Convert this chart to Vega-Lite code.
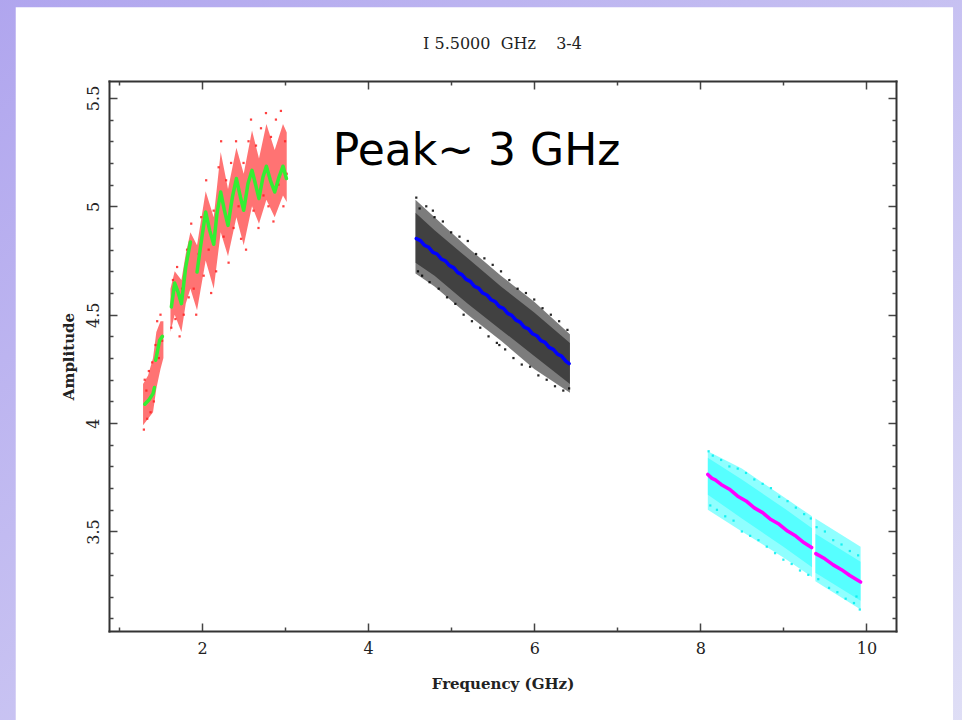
{
  "$schema": "https://vega.github.io/schema/vega-lite/v6.json",
  "width": 787,
  "height": 550,
  "autosize": "none",
  "padding": {"left": 109, "top": 81, "right": 66, "bottom": 89},
  "background": "white",
  "title": {
    "text": "I 5.5000\u00a0\u00a0GHz\u00a0\u00a0\u00a0\u00a03-4",
    "font": "DejaVu Serif",
    "fontSize": 16,
    "fontWeight": "normal",
    "color": "#222222",
    "anchor": "middle",
    "frame": "group",
    "baseline": "alphabetic",
    "offset": -67
  },
  "config": {
    "view": {"stroke": null},
    "axis": {
      "grid": false,
      "tickColor": "#444444",
      "tickWidth": 1.5,
      "domainColor": "#333333",
      "domainWidth": 2,
      "domainCap": "square",
      "labelFont": "DejaVu Serif",
      "labelFontSize": 16,
      "labelColor": "#222222",
      "titleFont": "DejaVu Serif",
      "titleFontSize": 15,
      "titleFontWeight": "bold",
      "titleColor": "#222222"
    }
  },
  "datasets": {
    "bands": [
      {"f": 1.29, "lo": 3.99, "hi": 4.18, "lvl": "r", "seg": "r1"},
      {"f": 1.35, "lo": 4.02, "hi": 4.22, "lvl": "r", "seg": "r1"},
      {"f": 1.41, "lo": 4.05, "hi": 4.30, "lvl": "r", "seg": "r1"},
      {"f": 1.45, "lo": 4.16, "hi": 4.42, "lvl": "r", "seg": "r1"},
      {"f": 1.50, "lo": 4.25, "hi": 4.47, "lvl": "r", "seg": "r1"},
      {"f": 1.535, "lo": 4.30, "hi": 4.47, "lvl": "r", "seg": "r1"},
      {"f": 1.62, "lo": 4.42, "hi": 4.62, "lvl": "r", "seg": "r2"},
      {"f": 1.671, "lo": 4.50, "hi": 4.70, "lvl": "r", "seg": "r2"},
      {"f": 1.752, "lo": 4.42, "hi": 4.66, "lvl": "r", "seg": "r2"},
      {"f": 1.804, "lo": 4.55, "hi": 4.78, "lvl": "r", "seg": "r2"},
      {"f": 1.86, "lo": 4.62, "hi": 4.88, "lvl": "r", "seg": "r2"},
      {"f": 1.94, "lo": 4.52, "hi": 4.82, "lvl": "r", "seg": "r2"},
      {"f": 2.044, "lo": 4.75, "hi": 5.07, "lvl": "r", "seg": "r2"},
      {"f": 2.141, "lo": 4.62, "hi": 4.95, "lvl": "r", "seg": "r2"},
      {"f": 2.225, "lo": 4.88, "hi": 5.25, "lvl": "r", "seg": "r2"},
      {"f": 2.313, "lo": 4.77, "hi": 5.08, "lvl": "r", "seg": "r2"},
      {"f": 2.414, "lo": 4.95, "hi": 5.27, "lvl": "r", "seg": "r2"},
      {"f": 2.502, "lo": 4.82, "hi": 5.15, "lvl": "r", "seg": "r2"},
      {"f": 2.602, "lo": 5.00, "hi": 5.35, "lvl": "r", "seg": "r2"},
      {"f": 2.686, "lo": 4.92, "hi": 5.22, "lvl": "r", "seg": "r2"},
      {"f": 2.775, "lo": 5.03, "hi": 5.38, "lvl": "r", "seg": "r2"},
      {"f": 2.875, "lo": 4.95, "hi": 5.26, "lvl": "r", "seg": "r2"},
      {"f": 2.975, "lo": 5.05, "hi": 5.38, "lvl": "r", "seg": "r2"},
      {"f": 3.02, "lo": 5.02, "hi": 5.34, "lvl": "r", "seg": "r2"},
      {"f": 4.57, "lo": 4.69, "hi": 5.03, "lvl": "k1", "seg": "k1"},
      {"f": 4.8, "lo": 4.63, "hi": 4.95, "lvl": "k1", "seg": "k1"},
      {"f": 5.2, "lo": 4.50, "hi": 4.81, "lvl": "k1", "seg": "k1"},
      {"f": 5.6, "lo": 4.38, "hi": 4.68, "lvl": "k1", "seg": "k1"},
      {"f": 6.0, "lo": 4.25, "hi": 4.56, "lvl": "k1", "seg": "k1"},
      {"f": 6.43, "lo": 4.14, "hi": 4.41, "lvl": "k1", "seg": "k1"},
      {"f": 4.57, "lo": 4.74, "hi": 4.97, "lvl": "k2", "seg": "k2"},
      {"f": 4.8, "lo": 4.68, "hi": 4.89, "lvl": "k2", "seg": "k2"},
      {"f": 5.2, "lo": 4.55, "hi": 4.76, "lvl": "k2", "seg": "k2"},
      {"f": 5.6, "lo": 4.43, "hi": 4.63, "lvl": "k2", "seg": "k2"},
      {"f": 6.0, "lo": 4.31, "hi": 4.51, "lvl": "k2", "seg": "k2"},
      {"f": 6.43, "lo": 4.18, "hi": 4.37, "lvl": "k2", "seg": "k2"},
      {"f": 8.09, "lo": 3.60, "hi": 3.87, "lvl": "c1", "seg": "c1a"},
      {"f": 8.5, "lo": 3.50, "hi": 3.79, "lvl": "c1", "seg": "c1a"},
      {"f": 9.0, "lo": 3.38, "hi": 3.66, "lvl": "c1", "seg": "c1a"},
      {"f": 9.345, "lo": 3.29, "hi": 3.57, "lvl": "c1", "seg": "c1a"},
      {"f": 9.385, "lo": 3.27, "hi": 3.56, "lvl": "c1", "seg": "c1b"},
      {"f": 9.93, "lo": 3.14, "hi": 3.43, "lvl": "c1", "seg": "c1b"},
      {"f": 8.09, "lo": 3.67, "hi": 3.84, "lvl": "c2", "seg": "c2a"},
      {"f": 8.5, "lo": 3.56, "hi": 3.74, "lvl": "c2", "seg": "c2a"},
      {"f": 9.0, "lo": 3.43, "hi": 3.61, "lvl": "c2", "seg": "c2a"},
      {"f": 9.345, "lo": 3.335, "hi": 3.515, "lvl": "c2", "seg": "c2a"},
      {"f": 9.385, "lo": 3.31, "hi": 3.49, "lvl": "c2", "seg": "c2b"},
      {"f": 9.93, "lo": 3.18, "hi": 3.36, "lvl": "c2", "seg": "c2b"}
    ],
    "pts": [
      {"f": 1.30, "a": 3.97, "g": "red"}, {"f": 1.31, "a": 4.20, "g": "red"}, {"f": 1.33, "a": 4.15, "g": "red"},
      {"f": 1.34, "a": 4.02, "g": "red"}, {"f": 1.36, "a": 4.24, "g": "red"}, {"f": 1.38, "a": 4.05, "g": "red"},
      {"f": 1.40, "a": 4.28, "g": "red"}, {"f": 1.42, "a": 4.10, "g": "red"}, {"f": 1.44, "a": 4.36, "g": "red"},
      {"f": 1.46, "a": 4.47, "g": "red"}, {"f": 1.48, "a": 4.30, "g": "red"}, {"f": 1.50, "a": 4.50, "g": "red"},
      {"f": 1.52, "a": 4.38, "g": "red"}, {"f": 1.63, "a": 4.44, "g": "red"}, {"f": 1.65, "a": 4.66, "g": "red"},
      {"f": 1.68, "a": 4.48, "g": "red"}, {"f": 1.70, "a": 4.72, "g": "red"}, {"f": 1.73, "a": 4.40, "g": "red"},
      {"f": 1.76, "a": 4.62, "g": "red"}, {"f": 1.78, "a": 4.50, "g": "red"}, {"f": 1.82, "a": 4.80, "g": "red"},
      {"f": 1.84, "a": 4.58, "g": "red"}, {"f": 1.87, "a": 4.92, "g": "red"}, {"f": 1.90, "a": 4.62, "g": "red"},
      {"f": 1.93, "a": 4.50, "g": "red"}, {"f": 1.96, "a": 4.78, "g": "red"}, {"f": 1.99, "a": 4.95, "g": "red"},
      {"f": 2.02, "a": 4.68, "g": "red"}, {"f": 2.05, "a": 5.12, "g": "red"}, {"f": 2.08, "a": 4.80, "g": "red"},
      {"f": 2.11, "a": 4.60, "g": "red"}, {"f": 2.14, "a": 4.98, "g": "red"}, {"f": 2.17, "a": 4.70, "g": "red"},
      {"f": 2.20, "a": 5.18, "g": "red"}, {"f": 2.23, "a": 5.30, "g": "red"}, {"f": 2.26, "a": 4.86, "g": "red"},
      {"f": 2.29, "a": 5.12, "g": "red"}, {"f": 2.32, "a": 4.74, "g": "red"}, {"f": 2.35, "a": 5.20, "g": "red"},
      {"f": 2.38, "a": 4.90, "g": "red"}, {"f": 2.41, "a": 5.30, "g": "red"}, {"f": 2.44, "a": 5.00, "g": "red"},
      {"f": 2.47, "a": 4.85, "g": "red"}, {"f": 2.50, "a": 5.20, "g": "red"}, {"f": 2.53, "a": 4.80, "g": "red"},
      {"f": 2.56, "a": 5.30, "g": "red"}, {"f": 2.59, "a": 5.40, "g": "red"}, {"f": 2.62, "a": 4.98, "g": "red"},
      {"f": 2.65, "a": 5.28, "g": "red"}, {"f": 2.68, "a": 4.90, "g": "red"}, {"f": 2.71, "a": 5.36, "g": "red"},
      {"f": 2.74, "a": 5.05, "g": "red"}, {"f": 2.77, "a": 5.43, "g": "red"}, {"f": 2.80, "a": 5.00, "g": "red"},
      {"f": 2.83, "a": 5.32, "g": "red"}, {"f": 2.86, "a": 4.93, "g": "red"}, {"f": 2.89, "a": 5.40, "g": "red"},
      {"f": 2.92, "a": 5.10, "g": "red"}, {"f": 2.95, "a": 5.44, "g": "red"}, {"f": 2.98, "a": 5.00, "g": "red"},
      {"f": 3.00, "a": 5.30, "g": "red"}, {"f": 3.02, "a": 5.15, "g": "red"},
      {"f": 4.58, "a": 5.04, "g": "black"}, {"f": 4.60, "a": 4.70, "g": "black"}, {"f": 4.62, "a": 4.99, "g": "black"},
      {"f": 4.65, "a": 4.68, "g": "black"}, {"f": 4.70, "a": 5.00, "g": "black"}, {"f": 4.74, "a": 4.65, "g": "black"},
      {"f": 4.78, "a": 4.98, "g": "black"}, {"f": 4.80, "a": 4.95, "g": "black"}, {"f": 4.85, "a": 4.62, "g": "black"},
      {"f": 4.90, "a": 4.93, "g": "black"}, {"f": 4.95, "a": 4.58, "g": "black"}, {"f": 5.00, "a": 4.88, "g": "black"},
      {"f": 5.05, "a": 4.55, "g": "black"}, {"f": 5.10, "a": 4.86, "g": "black"}, {"f": 5.15, "a": 4.50, "g": "black"},
      {"f": 5.20, "a": 4.84, "g": "black"}, {"f": 5.25, "a": 4.47, "g": "black"}, {"f": 5.30, "a": 4.78, "g": "black"},
      {"f": 5.35, "a": 4.44, "g": "black"}, {"f": 5.40, "a": 4.76, "g": "black"}, {"f": 5.45, "a": 4.40, "g": "black"},
      {"f": 5.50, "a": 4.73, "g": "black"}, {"f": 5.55, "a": 4.37, "g": "black"}, {"f": 5.58, "a": 4.36, "g": "black"},
      {"f": 5.60, "a": 4.70, "g": "black"}, {"f": 5.65, "a": 4.34, "g": "black"}, {"f": 5.70, "a": 4.66, "g": "black"},
      {"f": 5.75, "a": 4.30, "g": "black"}, {"f": 5.80, "a": 4.62, "g": "black"}, {"f": 5.85, "a": 4.27, "g": "black"},
      {"f": 5.90, "a": 4.60, "g": "black"}, {"f": 5.95, "a": 4.26, "g": "black"}, {"f": 6.00, "a": 4.57, "g": "black"},
      {"f": 6.05, "a": 4.22, "g": "black"}, {"f": 6.10, "a": 4.53, "g": "black"}, {"f": 6.15, "a": 4.20, "g": "black"},
      {"f": 6.20, "a": 4.50, "g": "black"}, {"f": 6.25, "a": 4.17, "g": "black"}, {"f": 6.30, "a": 4.47, "g": "black"},
      {"f": 6.35, "a": 4.15, "g": "black"}, {"f": 6.40, "a": 4.43, "g": "black"}, {"f": 6.42, "a": 4.16, "g": "black"},
      {"f": 8.10, "a": 3.87, "g": "cyan"}, {"f": 8.12, "a": 3.62, "g": "cyan"}, {"f": 8.15, "a": 3.85, "g": "cyan"},
      {"f": 8.20, "a": 3.60, "g": "cyan"}, {"f": 8.25, "a": 3.83, "g": "cyan"}, {"f": 8.30, "a": 3.57, "g": "cyan"},
      {"f": 8.35, "a": 3.80, "g": "cyan"}, {"f": 8.40, "a": 3.55, "g": "cyan"}, {"f": 8.45, "a": 3.79, "g": "cyan"},
      {"f": 8.50, "a": 3.50, "g": "cyan"}, {"f": 8.55, "a": 3.77, "g": "cyan"}, {"f": 8.60, "a": 3.48, "g": "cyan"},
      {"f": 8.65, "a": 3.74, "g": "cyan"}, {"f": 8.70, "a": 3.46, "g": "cyan"}, {"f": 8.75, "a": 3.72, "g": "cyan"},
      {"f": 8.80, "a": 3.43, "g": "cyan"}, {"f": 8.85, "a": 3.70, "g": "cyan"}, {"f": 8.90, "a": 3.40, "g": "cyan"},
      {"f": 8.95, "a": 3.66, "g": "cyan"}, {"f": 9.00, "a": 3.37, "g": "cyan"}, {"f": 9.05, "a": 3.64, "g": "cyan"},
      {"f": 9.10, "a": 3.35, "g": "cyan"}, {"f": 9.15, "a": 3.61, "g": "cyan"}, {"f": 9.20, "a": 3.32, "g": "cyan"},
      {"f": 9.25, "a": 3.58, "g": "cyan"}, {"f": 9.30, "a": 3.30, "g": "cyan"}, {"f": 9.33, "a": 3.56, "g": "cyan"},
      {"f": 9.40, "a": 3.52, "g": "cyan"}, {"f": 9.42, "a": 3.28, "g": "cyan"}, {"f": 9.50, "a": 3.50, "g": "cyan"},
      {"f": 9.55, "a": 3.24, "g": "cyan"}, {"f": 9.60, "a": 3.46, "g": "cyan"}, {"f": 9.65, "a": 3.22, "g": "cyan"},
      {"f": 9.70, "a": 3.44, "g": "cyan"}, {"f": 9.75, "a": 3.19, "g": "cyan"}, {"f": 9.80, "a": 3.41, "g": "cyan"},
      {"f": 9.85, "a": 3.17, "g": "cyan"}, {"f": 9.88, "a": 3.20, "g": "cyan"}, {"f": 9.90, "a": 3.39, "g": "cyan"},
      {"f": 9.92, "a": 3.14, "g": "cyan"}
    ],
    "fits": [
      {"f": 1.311, "a": 4.087, "g": "green", "seg": "gA"},
      {"f": 1.362, "a": 4.108, "g": "green", "seg": "gA"},
      {"f": 1.410, "a": 4.136, "g": "green", "seg": "gA"},
      {"f": 1.427, "a": 4.164, "g": "green", "seg": "gA"},
      {"f": 1.442, "a": 4.290, "g": "green", "seg": "gB"},
      {"f": 1.470, "a": 4.344, "g": "green", "seg": "gB"},
      {"f": 1.490, "a": 4.382, "g": "green", "seg": "gB"},
      {"f": 1.523, "a": 4.400, "g": "green", "seg": "gB"},
      {"f": 1.631, "a": 4.536, "g": "green", "seg": "gC"},
      {"f": 1.671, "a": 4.646, "g": "green", "seg": "gC"},
      {"f": 1.711, "a": 4.605, "g": "green", "seg": "gC"},
      {"f": 1.752, "a": 4.551, "g": "green", "seg": "gC"},
      {"f": 1.804, "a": 4.720, "g": "green", "seg": "gC"},
      {"f": 1.860, "a": 4.835, "g": "green", "seg": "gC"},
      {"f": 1.940, "a": 4.697, "g": "green", "seg": "gD"},
      {"f": 1.993, "a": 4.843, "g": "green", "seg": "gD"},
      {"f": 2.044, "a": 4.974, "g": "green", "seg": "gD"},
      {"f": 2.092, "a": 4.889, "g": "green", "seg": "gD"},
      {"f": 2.141, "a": 4.825, "g": "green", "seg": "gD"},
      {"f": 2.180, "a": 4.966, "g": "green", "seg": "gD"},
      {"f": 2.225, "a": 5.066, "g": "green", "seg": "gD"},
      {"f": 2.269, "a": 4.982, "g": "green", "seg": "gD"},
      {"f": 2.313, "a": 4.912, "g": "green", "seg": "gD"},
      {"f": 2.366, "a": 5.043, "g": "green", "seg": "gD"},
      {"f": 2.414, "a": 5.128, "g": "green", "seg": "gD"},
      {"f": 2.462, "a": 5.043, "g": "green", "seg": "gD"},
      {"f": 2.502, "a": 4.982, "g": "green", "seg": "gD"},
      {"f": 2.554, "a": 5.105, "g": "green", "seg": "gD"},
      {"f": 2.602, "a": 5.166, "g": "green", "seg": "gD"},
      {"f": 2.647, "a": 5.097, "g": "green", "seg": "gD"},
      {"f": 2.686, "a": 5.036, "g": "green", "seg": "gD"},
      {"f": 2.734, "a": 5.135, "g": "green", "seg": "gD"},
      {"f": 2.775, "a": 5.185, "g": "green", "seg": "gD"},
      {"f": 2.823, "a": 5.120, "g": "green", "seg": "gD"},
      {"f": 2.875, "a": 5.066, "g": "green", "seg": "gD"},
      {"f": 2.927, "a": 5.135, "g": "green", "seg": "gD"},
      {"f": 2.975, "a": 5.185, "g": "green", "seg": "gD"},
      {"f": 3.016, "a": 5.128, "g": "green", "seg": "gD"},
      {"f": 4.58, "a": 4.851, "g": "blue", "seg": "b"},
      {"f": 4.63, "a": 4.842, "g": "blue", "seg": "b"},
      {"f": 4.68, "a": 4.820, "g": "blue", "seg": "b"},
      {"f": 4.73, "a": 4.811, "g": "blue", "seg": "b"},
      {"f": 4.78, "a": 4.788, "g": "blue", "seg": "b"},
      {"f": 4.83, "a": 4.780, "g": "blue", "seg": "b"},
      {"f": 4.88, "a": 4.757, "g": "blue", "seg": "b"},
      {"f": 4.93, "a": 4.748, "g": "blue", "seg": "b"},
      {"f": 4.98, "a": 4.726, "g": "blue", "seg": "b"},
      {"f": 5.03, "a": 4.717, "g": "blue", "seg": "b"},
      {"f": 5.08, "a": 4.694, "g": "blue", "seg": "b"},
      {"f": 5.13, "a": 4.685, "g": "blue", "seg": "b"},
      {"f": 5.18, "a": 4.663, "g": "blue", "seg": "b"},
      {"f": 5.23, "a": 4.654, "g": "blue", "seg": "b"},
      {"f": 5.28, "a": 4.631, "g": "blue", "seg": "b"},
      {"f": 5.33, "a": 4.623, "g": "blue", "seg": "b"},
      {"f": 5.38, "a": 4.600, "g": "blue", "seg": "b"},
      {"f": 5.43, "a": 4.591, "g": "blue", "seg": "b"},
      {"f": 5.48, "a": 4.569, "g": "blue", "seg": "b"},
      {"f": 5.53, "a": 4.560, "g": "blue", "seg": "b"},
      {"f": 5.58, "a": 4.537, "g": "blue", "seg": "b"},
      {"f": 5.63, "a": 4.529, "g": "blue", "seg": "b"},
      {"f": 5.68, "a": 4.506, "g": "blue", "seg": "b"},
      {"f": 5.73, "a": 4.497, "g": "blue", "seg": "b"},
      {"f": 5.78, "a": 4.475, "g": "blue", "seg": "b"},
      {"f": 5.83, "a": 4.466, "g": "blue", "seg": "b"},
      {"f": 5.88, "a": 4.443, "g": "blue", "seg": "b"},
      {"f": 5.93, "a": 4.435, "g": "blue", "seg": "b"},
      {"f": 5.98, "a": 4.412, "g": "blue", "seg": "b"},
      {"f": 6.03, "a": 4.403, "g": "blue", "seg": "b"},
      {"f": 6.08, "a": 4.380, "g": "blue", "seg": "b"},
      {"f": 6.13, "a": 4.372, "g": "blue", "seg": "b"},
      {"f": 6.18, "a": 4.349, "g": "blue", "seg": "b"},
      {"f": 6.23, "a": 4.340, "g": "blue", "seg": "b"},
      {"f": 6.28, "a": 4.318, "g": "blue", "seg": "b"},
      {"f": 6.33, "a": 4.309, "g": "blue", "seg": "b"},
      {"f": 6.38, "a": 4.286, "g": "blue", "seg": "b"},
      {"f": 6.42, "a": 4.274, "g": "blue", "seg": "b"},
      {"f": 8.09, "a": 3.763, "g": "magenta", "seg": "m1"},
      {"f": 8.14, "a": 3.745, "g": "magenta", "seg": "m1"},
      {"f": 8.18, "a": 3.738, "g": "magenta", "seg": "m1"},
      {"f": 8.25, "a": 3.717, "g": "magenta", "seg": "m1"},
      {"f": 8.35, "a": 3.695, "g": "magenta", "seg": "m1"},
      {"f": 8.45, "a": 3.663, "g": "magenta", "seg": "m1"},
      {"f": 8.55, "a": 3.641, "g": "magenta", "seg": "m1"},
      {"f": 8.65, "a": 3.609, "g": "magenta", "seg": "m1"},
      {"f": 8.75, "a": 3.587, "g": "magenta", "seg": "m1"},
      {"f": 8.85, "a": 3.555, "g": "magenta", "seg": "m1"},
      {"f": 8.95, "a": 3.533, "g": "magenta", "seg": "m1"},
      {"f": 9.05, "a": 3.502, "g": "magenta", "seg": "m1"},
      {"f": 9.15, "a": 3.479, "g": "magenta", "seg": "m1"},
      {"f": 9.25, "a": 3.448, "g": "magenta", "seg": "m1"},
      {"f": 9.34, "a": 3.426, "g": "magenta", "seg": "m1"},
      {"f": 9.39, "a": 3.398, "g": "magenta", "seg": "m2"},
      {"f": 9.50, "a": 3.374, "g": "magenta", "seg": "m2"},
      {"f": 9.60, "a": 3.346, "g": "magenta", "seg": "m2"},
      {"f": 9.70, "a": 3.324, "g": "magenta", "seg": "m2"},
      {"f": 9.80, "a": 3.297, "g": "magenta", "seg": "m2"},
      {"f": 9.93, "a": 3.267, "g": "magenta", "seg": "m2"}
    ]
  },
  "resolve": {
    "scale": {"color": "independent", "opacity": "independent"},
    "axis": {"x": "independent", "y": "independent"}
  },
  "layer": [
    {
      "data": {"values": [{}]},
      "mark": {
        "type": "rect",
        "fill": {
          "gradient": "linear", "x1": 0, "y1": 0, "x2": 1, "y2": 1,
          "stops": [{"offset": 0, "color": "#afa4ee"}, {"offset": 1, "color": "#e2e2f6"}]
        }
      },
      "encoding": {
        "x": {"datum": -1, "type": "quantitative", "scale": {"domain": [0.88, 10.356], "nice": false, "zero": false}, "axis": null},
        "x2": {"datum": 12},
        "y": {"datum": 2.4, "type": "quantitative", "scale": {"domain": [3.041, 5.578], "nice": false, "zero": false}, "axis": null},
        "y2": {"datum": 5.96}
      }
    },
    {
      "data": {"values": [{}]},
      "mark": {"type": "rect", "fill": "#ffffff"},
      "encoding": {
        "x": {"datum": -0.243, "type": "quantitative", "scale": {"domain": [0.88, 10.356], "nice": false, "zero": false}, "axis": null},
        "x2": {"datum": 11.043},
        "y": {"datum": 2.4, "type": "quantitative", "scale": {"domain": [3.041, 5.578], "nice": false, "zero": false}, "axis": null},
        "y2": {"datum": 5.918}
      }
    },
    {
      "data": {"name": "bands"},
      "mark": {"type": "area", "interpolate": "linear"},
      "encoding": {
        "x": {
          "field": "f", "type": "quantitative",
          "scale": {"domain": [0.88, 10.356], "nice": false, "zero": false},
          "axis": {
            "orient": "bottom", "values": [2, 4, 6, 8, 10], "tickSize": -8, "zindex": 1,
            "labelPadding": 17, "labelFlush": false, "domain": true,
            "title": "Frequency (GHz)", "titlePadding": 20
          }
        },
        "y": {
          "field": "lo", "type": "quantitative",
          "scale": {"domain": [3.041, 5.578], "nice": false, "zero": false},
          "axis": {
            "orient": "left", "values": [3.5, 4, 4.5, 5, 5.5], "format": "~g", "tickSize": -8, "zindex": 1,
            "labelAngle": 270, "labelAlign": "center", "labelBaseline": "alphabetic",
            "labelPadding": 19, "labelFlush": false, "domain": true,
            "title": "Amplitude", "titlePadding": 9
          }
        },
        "y2": {"field": "hi"},
        "detail": {"field": "seg"},
        "color": {
          "field": "lvl", "type": "nominal", "legend": null,
          "scale": {"domain": ["r", "k1", "k2", "c1", "c2"], "range": ["#ff0000", "#000000", "#000000", "#00ffff", "#00ffff"]}
        },
        "opacity": {
          "field": "lvl", "type": "nominal", "legend": null,
          "scale": {"domain": ["r", "k1", "k2", "c1", "c2"], "range": [0.55, 0.4, 0.85, 0.4, 0.7]}
        }
      }
    },
    {
      "data": {"name": "pts"},
      "mark": {"type": "square", "size": 5, "opacity": 0.85},
      "encoding": {
        "x": {
          "field": "f", "type": "quantitative",
          "scale": {"domain": [0.88, 10.356], "nice": false, "zero": false},
          "axis": {"orient": "top", "values": [2, 4, 6, 8, 10], "tickSize": -8, "zindex": 1, "labels": false, "domain": true, "title": null}
        },
        "y": {
          "field": "a", "type": "quantitative",
          "scale": {"domain": [3.041, 5.578], "nice": false, "zero": false},
          "axis": {"orient": "right", "values": [3.5, 4, 4.5, 5, 5.5], "tickSize": -8, "zindex": 1, "labels": false, "domain": true, "title": null}
        },
        "color": {
          "field": "g", "type": "nominal", "legend": null,
          "scale": {"domain": ["red", "black", "cyan"], "range": ["#ff2020", "#000000", "#00eeee"]}
        }
      }
    },
    {
      "data": {"name": "fits"},
      "mark": {"type": "line", "strokeWidth": 3.5, "strokeCap": "round", "strokeJoin": "round"},
      "encoding": {
        "x": {
          "field": "f", "type": "quantitative",
          "scale": {"domain": [0.88, 10.356], "nice": false, "zero": false},
          "axis": {"orient": "bottom", "values": [1, 3, 5, 7, 9], "tickSize": -4, "zindex": 1, "labels": false, "domain": false, "title": null}
        },
        "y": {
          "field": "a", "type": "quantitative",
          "scale": {"domain": [3.041, 5.578], "nice": false, "zero": false},
          "axis": {"orient": "left", "values": [3.1, 3.2, 3.3, 3.4, 3.6, 3.7, 3.8, 3.9, 4.1, 4.2, 4.3, 4.4, 4.6, 4.7, 4.8, 4.9, 5.1, 5.2, 5.3, 5.4], "tickSize": -4, "zindex": 1, "labels": false, "domain": false, "title": null}
        },
        "detail": {"field": "seg"},
        "color": {
          "field": "g", "type": "nominal", "legend": null,
          "scale": {"domain": ["green", "blue", "magenta"], "range": ["#33ee33", "#0000ff", "#ff00ff"]}
        }
      }
    },
    {
      "data": {"values": [{"f": 3.574, "a": 5.189, "label": "Peak~ 3 GHz"}]},
      "mark": {"type": "text", "align": "left", "baseline": "alphabetic", "font": "DejaVu Sans", "fontSize": 44, "color": "#000000"},
      "encoding": {
        "x": {
          "field": "f", "type": "quantitative",
          "scale": {"domain": [0.88, 10.356], "nice": false, "zero": false},
          "axis": {"orient": "top", "values": [1, 3, 5, 7, 9], "tickSize": -4, "zindex": 1, "labels": false, "domain": false, "title": null}
        },
        "y": {
          "field": "a", "type": "quantitative",
          "scale": {"domain": [3.041, 5.578], "nice": false, "zero": false},
          "axis": {"orient": "right", "values": [3.1, 3.2, 3.3, 3.4, 3.6, 3.7, 3.8, 3.9, 4.1, 4.2, 4.3, 4.4, 4.6, 4.7, 4.8, 4.9, 5.1, 5.2, 5.3, 5.4], "tickSize": -4, "zindex": 1, "labels": false, "domain": false, "title": null}
        },
        "text": {"field": "label"}
      }
    }
  ]
}
